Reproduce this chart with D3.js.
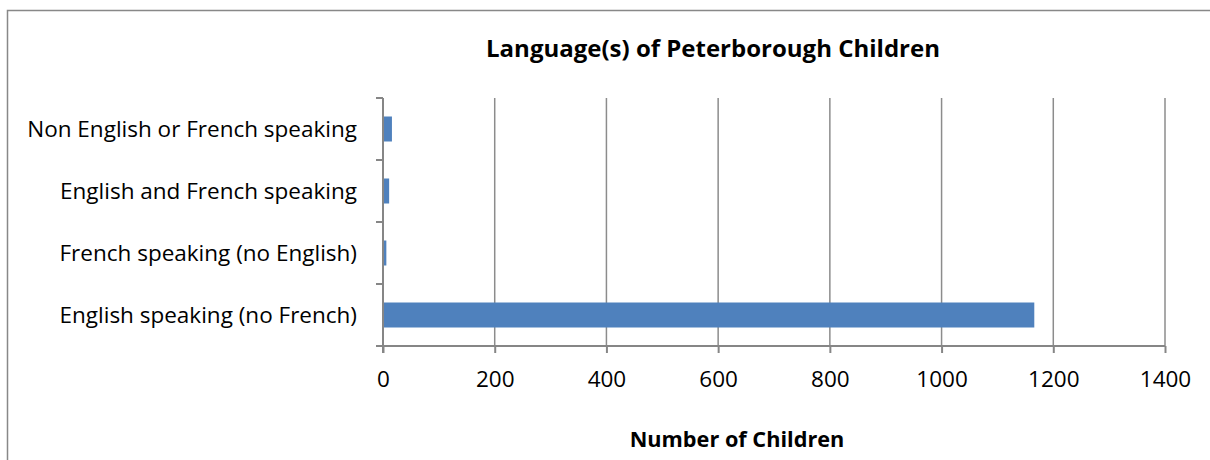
<!DOCTYPE html>
<html><head><meta charset="utf-8">
<script src="https://cdn.jsdelivr.net/npm/d3@7"></script>
<style>body{margin:0;background:#fff}svg{display:block}text{font-family:"Open Sans",sans-serif;fill:#000}</style>
</head><body><svg id="c" width="1210" height="460"></svg>
<script>
const categories = ["Non English or French speaking","English and French speaking","French speaking (no English)","English speaking (no French)"];
const values = [16, 11, 6, 1166];
const xTicks = [0,200,400,600,800,1000,1200,1400];
const title = "Language(s) of Peterborough Children";
const xTitle = "Number of Children";

const svg = d3.select("#c");
svg.append("path").attr("d","M7.5,460 V10.5 H1210").attr("fill","none").attr("stroke","#888").attr("stroke-width",1.5);

const x = d3.scaleLinear().domain([0,1400]).range([383,1165]);
const yb = d3.scaleBand().domain(categories).range([98,346]);

svg.append("g").selectAll("line").data(xTicks.slice(1)).join("line")
  .attr("x1",d=>x(d)).attr("x2",d=>x(d)).attr("y1",98).attr("y2",346)
  .attr("stroke","#8c8c8c").attr("stroke-width",1.5);

svg.append("g").selectAll("rect").data(values).join("rect")
  .attr("x",x(0)).attr("y",(d,i)=>yb(categories[i])+yb.bandwidth()/2-12.5)
  .attr("width",d=>x(d)-x(0)).attr("height",25).attr("fill","#4F81BD");

const xa = svg.append("g").attr("transform","translate(0,346)")
  .call(d3.axisBottom(x).tickValues(xTicks).tickSize(7).tickFormat(d3.format("d")));
xa.select(".domain").attr("stroke","#868686").attr("stroke-width",2).attr("d","M383,0H1165");
xa.selectAll(".tick line").attr("stroke","#868686").attr("stroke-width",2);
xa.selectAll(".tick text").attr("font-size",22.5).attr("font-family","Open Sans").attr("fill","#000")
  .attr("y",41).attr("dy",null);

const ya = svg.append("g").attr("transform","translate(383,0)")
  .call(d3.axisLeft(yb).tickSize(0).tickPadding(26));
ya.select(".domain").attr("stroke","#868686").attr("stroke-width",2).attr("d","M0,98V353");
ya.selectAll(".tick text").attr("font-size",22.5).attr("font-family","Open Sans").attr("fill","#000")
  .attr("dy",null).attr("y",8);
const yEdges = categories.map(c=>yb(c)).concat([346]);
ya.append("g").selectAll("line").data(yEdges).join("line")
  .attr("x1",-7).attr("x2",0).attr("y1",d=>d).attr("y2",d=>d)
  .attr("stroke","#868686").attr("stroke-width",2);

svg.append("text").attr("x",713).attr("y",57).attr("text-anchor","middle")
  .attr("font-size",24).attr("font-weight","bold").text(title);
svg.append("text").attr("x",737).attr("y",447).attr("text-anchor","middle")
  .attr("font-size",21.7).attr("font-weight","bold").text(xTitle);
</script></body></html>
